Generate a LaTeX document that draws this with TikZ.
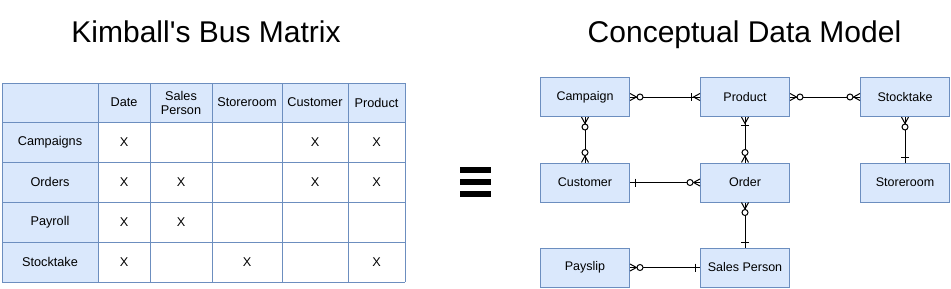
\documentclass[tikz,border=0pt]{standalone}
\usepackage{fontspec}
\setmainfont{Liberation Sans}
\usetikzlibrary{decorations.markings}
\definecolor{bfill}{HTML}{DAE8FC}
\definecolor{bline}{HTML}{6C8EBF}
% ER end symbols, drawn in a local frame: x = 0 at the box edge, +x away from the box
\newcommand{\erZM}{%
  \draw[line width=1pt,black] (0pt,3.5pt) -- (6.5pt,0pt) -- (0pt,-3.5pt);
  \draw[line width=1pt,black,fill=white] (10pt,0pt) circle[radius=3pt];}
\newcommand{\erOM}{%
  \draw[line width=1pt,black] (0pt,3.5pt) -- (6.5pt,0pt) -- (0pt,-3.5pt);
  \draw[line width=1pt,black] (8.3pt,4pt) -- (8.3pt,-4pt);}
\newcommand{\erOne}{%
  \draw[line width=1pt,black] (5pt,4pt) -- (5pt,-4pt);}
\tikzset{
  entity/.style={draw=bline, fill=bfill, line width=1pt, minimum width=89pt,
    minimum height=39pt, inner sep=0pt, font=\fontsize{12.5}{15}\selectfont},
  rel/.style={line width=1pt, draw=black},
  startsym/.style={postaction={decorate, decoration={markings,
    mark=at position 0 with {#1}}}},
  endsym/.style={postaction={decorate, decoration={markings,
    mark=at position 1 with {\begin{scope}[xscale=-1]#1\end{scope}}}}},
  celltext/.style={font=\fontsize{12.7}{14}\selectfont, inner sep=0pt, align=center},
  titletext/.style={font=\fontsize{30}{36}\selectfont\addfontfeatures{Ligatures=TeXOff},
    anchor=base, inner sep=0pt},
  gridline/.style={draw=bline, line width=1pt},
}
\begin{document}
\begin{tikzpicture}[x=1pt, y=-1pt]
\useasboundingbox[fill=white] (0,0) rectangle (951,289);

% titles
\node[titletext] (t1) at (206,42) {Kimball's Bus Matrix};
\node[titletext] (t2) at (744.5,42) {Conceptual Data Model};

% ---- bus matrix ----
\fill[bfill] (2,83) rectangle (405,122);
\fill[bfill] (2,122) rectangle (98,282);
\foreach \xx in {2,98,150,212,282,348,405}
  \draw[gridline] (\xx,83) -- (\xx,282);
\foreach \yy in {83,122,162,202,242,282}
  \draw[gridline] (2,\yy) -- (405,\yy);

% header
\node[celltext] (hdate) at (124,102.5) {Date};
\node[celltext] (hsales) at (181,102.5) {Sales\\Person};
\node[celltext] (hstore) at (247,102.5) {Storeroom};
\node[celltext] (hcust) at (315,102.5) {Customer};
\node[celltext] (hprod) at (376.5,102.5) {Product};
% row labels
\node[celltext] (rcamp) at (50,142) {Campaigns};
\node[celltext] (rord) at (50,182) {Orders};
\node[celltext] (rpay) at (50,222) {Payroll};
\node[celltext] (rstock) at (50,262) {Stocktake};
% marks
\node[celltext] (x11) at (124,142) {X};
\node[celltext] (x14) at (315,142) {X};
\node[celltext] (x15) at (376.5,142) {X};
\node[celltext] (x21) at (124,182) {X};
\node[celltext] (x22) at (181,182) {X};
\node[celltext] (x24) at (315,182) {X};
\node[celltext] (x25) at (376.5,182) {X};
\node[celltext] (x31) at (124,222) {X};
\node[celltext] (x32) at (181,222) {X};
\node[celltext] (x41) at (124,262) {X};
\node[celltext] (x43) at (247,262) {X};
\node[celltext] (x45) at (376.5,262) {X};

% ---- equivalence sign ----
\fill[black] (460,167) rectangle (491,173);
\fill[black] (460,179) rectangle (491,185);
\fill[black] (460,191) rectangle (491,197);

% ---- conceptual data model ----
\node[entity] (camp)  at (585,97)  {Campaign};
\node[entity] (prod)  at (745,97)  {Product};
\node[entity] (stock) at (905,97)  {Stocktake};
\node[entity] (cust)  at (585,182.5) {Customer};
\node[entity] (order) at (745,182.5) {Order};
\node[entity] (store) at (905,182.5) {Storeroom};
\node[entity] (pay)   at (585,267.5) {Payslip};
\node[entity] (sales) at (745,267.5) {Sales Person};

\draw[rel, startsym=\erZM, endsym=\erOM] (camp.east) -- (prod.west);
\draw[rel, startsym=\erZM, endsym=\erZM] (prod.east) -- (stock.west);
\draw[rel, startsym=\erZM, endsym=\erZM] (camp.south) -- (cust.north);
\draw[rel, startsym=\erOM, endsym=\erZM] (prod.south) -- (order.north);
\draw[rel, startsym=\erZM, endsym=\erOne] (stock.south) -- (store.north);
\draw[rel, startsym=\erOne, endsym=\erZM] (cust.east) -- (order.west);
\draw[rel, startsym=\erZM, endsym=\erOne] (order.south) -- (sales.north);
\draw[rel, startsym=\erZM, endsym=\erOne] (pay.east) -- (sales.west);
\end{tikzpicture}
\end{document}
